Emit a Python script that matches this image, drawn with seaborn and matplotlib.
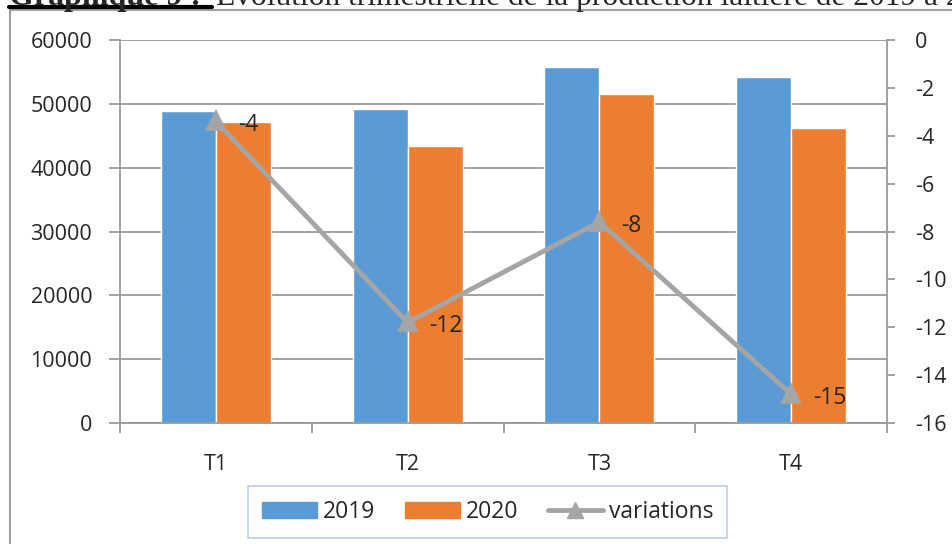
import numpy as np
import pandas as pd
import matplotlib
matplotlib.use('Agg')
import matplotlib.pyplot as plt
import seaborn as sns
from matplotlib.patches import Rectangle

## data
trimestres = ['T1', 'T2', 'T3', 'T4']
prod_2019 = [48800, 49200, 55800, 54200]
prod_2020 = [47150, 43400, 51550, 46200]
variations = [-3.4, -11.8, -7.6, -14.8]
labels_var = ['-4', '-12', '-8', '-15']

blue = '#5B9BD5'
orange = '#ED7D31'
grey = '#A5A5A5'
gridc = '#9A9A9A'

sns.set_style('white')
plt.rcParams['font.family'] = ['Open Sans', 'DejaVu Sans']
plt.rcParams['axes.unicode_minus'] = False

data = pd.DataFrame({
    'trimestre': trimestres * 2,
    'production': prod_2019 + prod_2020,
    'annee': ['2019'] * 4 + ['2020'] * 4,
})

fig = plt.figure(figsize=(9.52, 5.44), dpi=100)
ax = fig.add_axes([120/952, 1-423/544, (887-120)/952, (423-40)/544])

sns.barplot(data=data, x='trimestre', y='production', hue='annee',
            palette={'2019': blue, '2020': orange}, width=0.574,
            saturation=1, ax=ax, legend=False)
ax.set_ylim(0, 60000)
ax.set_yticks(np.arange(0, 60001, 10000))
ax.set_xlim(-0.5, 3.5)
ax.set_xlabel('')
ax.set_ylabel('')
ax.set_axisbelow(True)
ax.grid(axis='y', color=gridc, lw=1.3)
ax.grid(axis='x', visible=False)
for s in ['left', 'right', 'bottom']:
    ax.spines[s].set_color(gridc)
    ax.spines[s].set_linewidth(1.3)
ax.spines['top'].set_visible(False)
ax.tick_params(axis='y', length=8, width=1.3, color=gridc, pad=12, labelsize=15.5, left=True)
ax.set_xticks(np.arange(-0.5, 4, 1), minor=True)
ax.tick_params(axis='x', which='minor', length=7, width=1.3, color=gridc, bottom=True)
ax.tick_params(axis='x', which='major', length=0, pad=22, labelsize=15.5)

# courbe des variations sur l'axe de droite
ax2 = ax.twinx()
sns.pointplot(x=trimestres, y=variations, color=grey, marker='^',
              markersize=11, linewidth=3.5, ax=ax2)
ax2.set_ylim(-16, 0)
ax2.set_yticks(np.arange(-16, 1, 2))
ax2.set_xlim(-0.5, 3.5)
for s in ['left', 'right', 'bottom', 'top']:
    ax2.spines[s].set_visible(False)
ax2.tick_params(axis='y', length=6, width=1.3, color=gridc, pad=14, labelsize=15.5, right=True)
ax2.tick_params(axis='x', which='both', length=0)
for i, lab in enumerate(labels_var):
    ax2.annotate(lab, (i, variations[i]), xytext=(22, -4), textcoords='offset pixels',
                 ha='left', va='center', fontsize=16.5)

# legende
handles = [Rectangle((0, 0), 1, 1, color=blue), Rectangle((0, 0), 1, 1, color=orange),
           plt.Line2D([], [], color=grey, lw=3.5, marker='^', markersize=11)]
leg = fig.legend(handles, ['2019', '2020', 'variations'], loc='center',
                 bbox_to_anchor=(487.5/952, 1-512/544), ncol=3, fontsize=16.5,
                 frameon=True, fancybox=False, handlelength=2.4, handletextpad=0.25,
                 columnspacing=1.3, borderpad=0.6, borderaxespad=0)
leg.get_frame().set_edgecolor('#B4C7E7')
leg.get_frame().set_linewidth(1.3)

# cadre du graphique et titre coupé
fig.patches.append(Rectangle((10/952, -0.1), 1.2, 1-10/544+0.1, transform=fig.transFigure,
                             fill=False, edgecolor='#A0A0A0', lw=1.5))
fig.text(9/952, 1-5/544, 'Graphique 9 :', family='Liberation Serif', fontweight='bold',
         fontsize=23, va='baseline', ha='left')
fig.text(216/952, 1-5/544, 'Evolution trimestrielle de la production laitière de 2019 à 2020',
         family='Liberation Serif', fontsize=22.7, va='baseline', ha='left')
fig.add_artist(plt.Line2D([9/952, 212/952], [1-7/544, 1-7/544], color='black', lw=3))

fig.savefig('out.png', dpi=100)
